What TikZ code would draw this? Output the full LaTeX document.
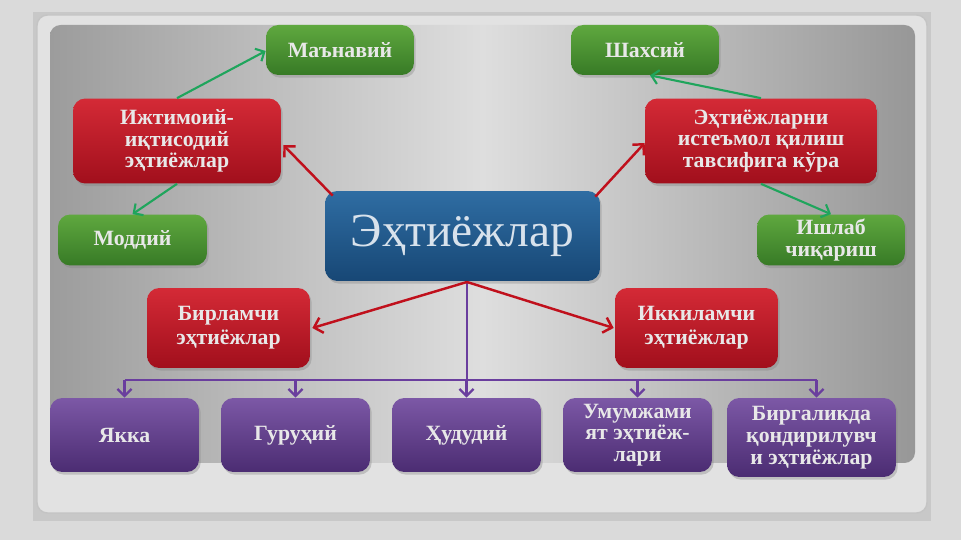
\documentclass[tikz,border=0pt]{standalone}
\usepackage{fontspec}
\setmainfont{Liberation Serif}
\usetikzlibrary{arrows.meta,shadows,calc}
\definecolor{bgout}{HTML}{DADADA}
\definecolor{frameband}{HTML}{C8C8C8}
\definecolor{framefill}{HTML}{E2E2E2}
\definecolor{panelA}{HTML}{9C9C9C}
\definecolor{panelB}{HTML}{DEDEDE}
\definecolor{gtop}{HTML}{5FA83F}
\definecolor{gbot}{HTML}{377A26}
\definecolor{rtop}{HTML}{D42A36}
\definecolor{rbot}{HTML}{A10F1C}
\definecolor{btop}{HTML}{2F6DA3}
\definecolor{bbot}{HTML}{174775}
\definecolor{ptop}{HTML}{7C58A6}
\definecolor{pbot}{HTML}{4B2C72}
\definecolor{garrow}{HTML}{1FA55C}
\definecolor{rarrow}{HTML}{C0101C}
\definecolor{parrow}{HTML}{6A3E9E}
\definecolor{txt}{HTML}{E8E8E8}
\definecolor{btxt}{HTML}{D8E2EC}
\tikzset{
  boxbase/.style={rounded corners=7pt, align=center, text=txt, inner sep=2pt,
    font=\fontsize{12.4}{12.4}\selectfont\bfseries,
    drop shadow={opacity=0.35, shadow xshift=1pt, shadow yshift=-1.5pt}},
  gbox/.style={boxbase, top color=gtop, bottom color=gbot},
  rbox/.style={boxbase, top color=rtop, bottom color=rbot},
  bbox/.style={boxbase, top color=btop, bottom color=bbot, text=btxt, font=\fontsize{27}{30}\selectfont},
  pbox/.style={boxbase, top color=ptop, bottom color=pbot},
  garr/.style={draw=garrow, line width=1.2pt, -{Straight Barb[length=4pt,width=8pt]}},
  rarr/.style={draw=rarrow, line width=1.4pt, -{Straight Barb[length=4.5pt,width=9pt]}},
  parr/.style={draw=parrow, line width=1.3pt, -{Straight Barb[length=4pt,width=8pt]}},
  pline/.style={draw=parrow, line width=1.3pt}
}
\begin{document}
\begin{tikzpicture}[x=0.02cm,y=-0.02cm]
\useasboundingbox (0,0) rectangle (961,540);
\fill[bgout] (0,0) rectangle (961,540);
\fill[frameband] (33,12) rectangle (931,521);
\draw[framefill!70!gray, fill=framefill, rounded corners=6pt, line width=0.8pt] (37,15) rectangle (927,513);
\shade[left color=panelA, right color=panelA!105, middle color=panelB, rounded corners=6pt] (50,25) rectangle (915,463);

% nodes
\node[gbox, minimum width=2.96cm, minimum height=1cm] (man) at (340,50) {Маънавий};
\node[rbox, minimum width=4.16cm, minimum height=1.7cm] (ijt) at (177,141) {Ижтимоий-\\иқтисодий\\эҳтиёжлар};
\node[gbox, minimum width=2.98cm, minimum height=1.02cm] (mod) at (132.5,240) {Моддий};
\node[bbox, minimum width=5.5cm, minimum height=1.8cm] (blue) at (462.5,236) {Эҳтиёжлар};
\node[gbox, minimum width=2.96cm, minimum height=1cm] (shax) at (645,50) {Шахсий};
\node[rbox, minimum width=4.64cm, minimum height=1.7cm] (ist) at (761,141) {Эҳтиёжларни\\истеъмол қилиш\\тавсифига кўра};
\node[gbox, minimum width=2.96cm, minimum height=1.02cm] (ish) at (831,240) {Ишлаб\\чиқариш};
\node[rbox, minimum width=3.26cm, minimum height=1.6cm, font=\fontsize{12.4}{13.8}\selectfont\bfseries] (birl) at (228.5,328) {Бирламчи\\эҳтиёжлар};
\node[rbox, minimum width=3.26cm, minimum height=1.6cm, font=\fontsize{12.4}{13.8}\selectfont\bfseries] (ikki) at (696.5,328) {Иккиламчи\\эҳтиёжлар};
\node[pbox, minimum width=2.98cm, minimum height=1.48cm] (yak) at (124.5,435) {Якка};
\node[pbox, minimum width=2.98cm, minimum height=1.48cm] (gur) at (295.5,435) {Гуруҳий};
\node[pbox, minimum width=2.98cm, minimum height=1.48cm] (hud) at (466.5,435) {Ҳудудий};
\node[pbox, minimum width=2.98cm, minimum height=1.48cm] (umu) at (637.5,435) {Умумжами\\ят эҳтиёж-\\лари};
\node[pbox, minimum width=3.38cm, minimum height=1.58cm] (birg) at (811.5,437.5) {Биргаликда\\қондирилувч\\и эҳтиёжлар};

% connectors
\coordinate (bus) at (0,380);
\coordinate (bsrc) at (467,282);
\draw[pline] (bsrc) -- (bsrc |- bus);
\draw[pline] (yak.north |- bus) -- ($(birg.north |- bus)+(5,0)$);
\draw[parr] (yak.north |- bus) -- (yak.north);
\draw[parr] (gur.north |- bus) -- (gur.north);
\draw[parr] (hud.north |- bus) -- (hud.north);
\draw[parr] (umu.north |- bus) -- (umu.north);
\draw[parr] ($(birg.north |- bus)+(5,0)$) -- ($(birg.north)+(5,0)$);

\draw[rarr] ($(blue.north west)+(8,5)$) -- ($(ijt.east)+(2,4)$);
\draw[rarr] ($(blue.north east)+(-5,6)$) -- ($(ist.west)+(0,2)$);
\draw[rarr] (bsrc) -- ($(birl.east)+(2,0)$);
\draw[rarr] (bsrc) -- ($(ikki.west)+(-1,0)$);

\draw[garr] (ijt.north) -- ($(man.west)+(0,1)$);
\draw[garr] (ijt.south) -- (mod.north);
\draw[garr] (ist.north) -- ($(shax.south)+(5,0)$);
\draw[garr] (ist.south) -- (ish.north);
\end{tikzpicture}
\end{document}
